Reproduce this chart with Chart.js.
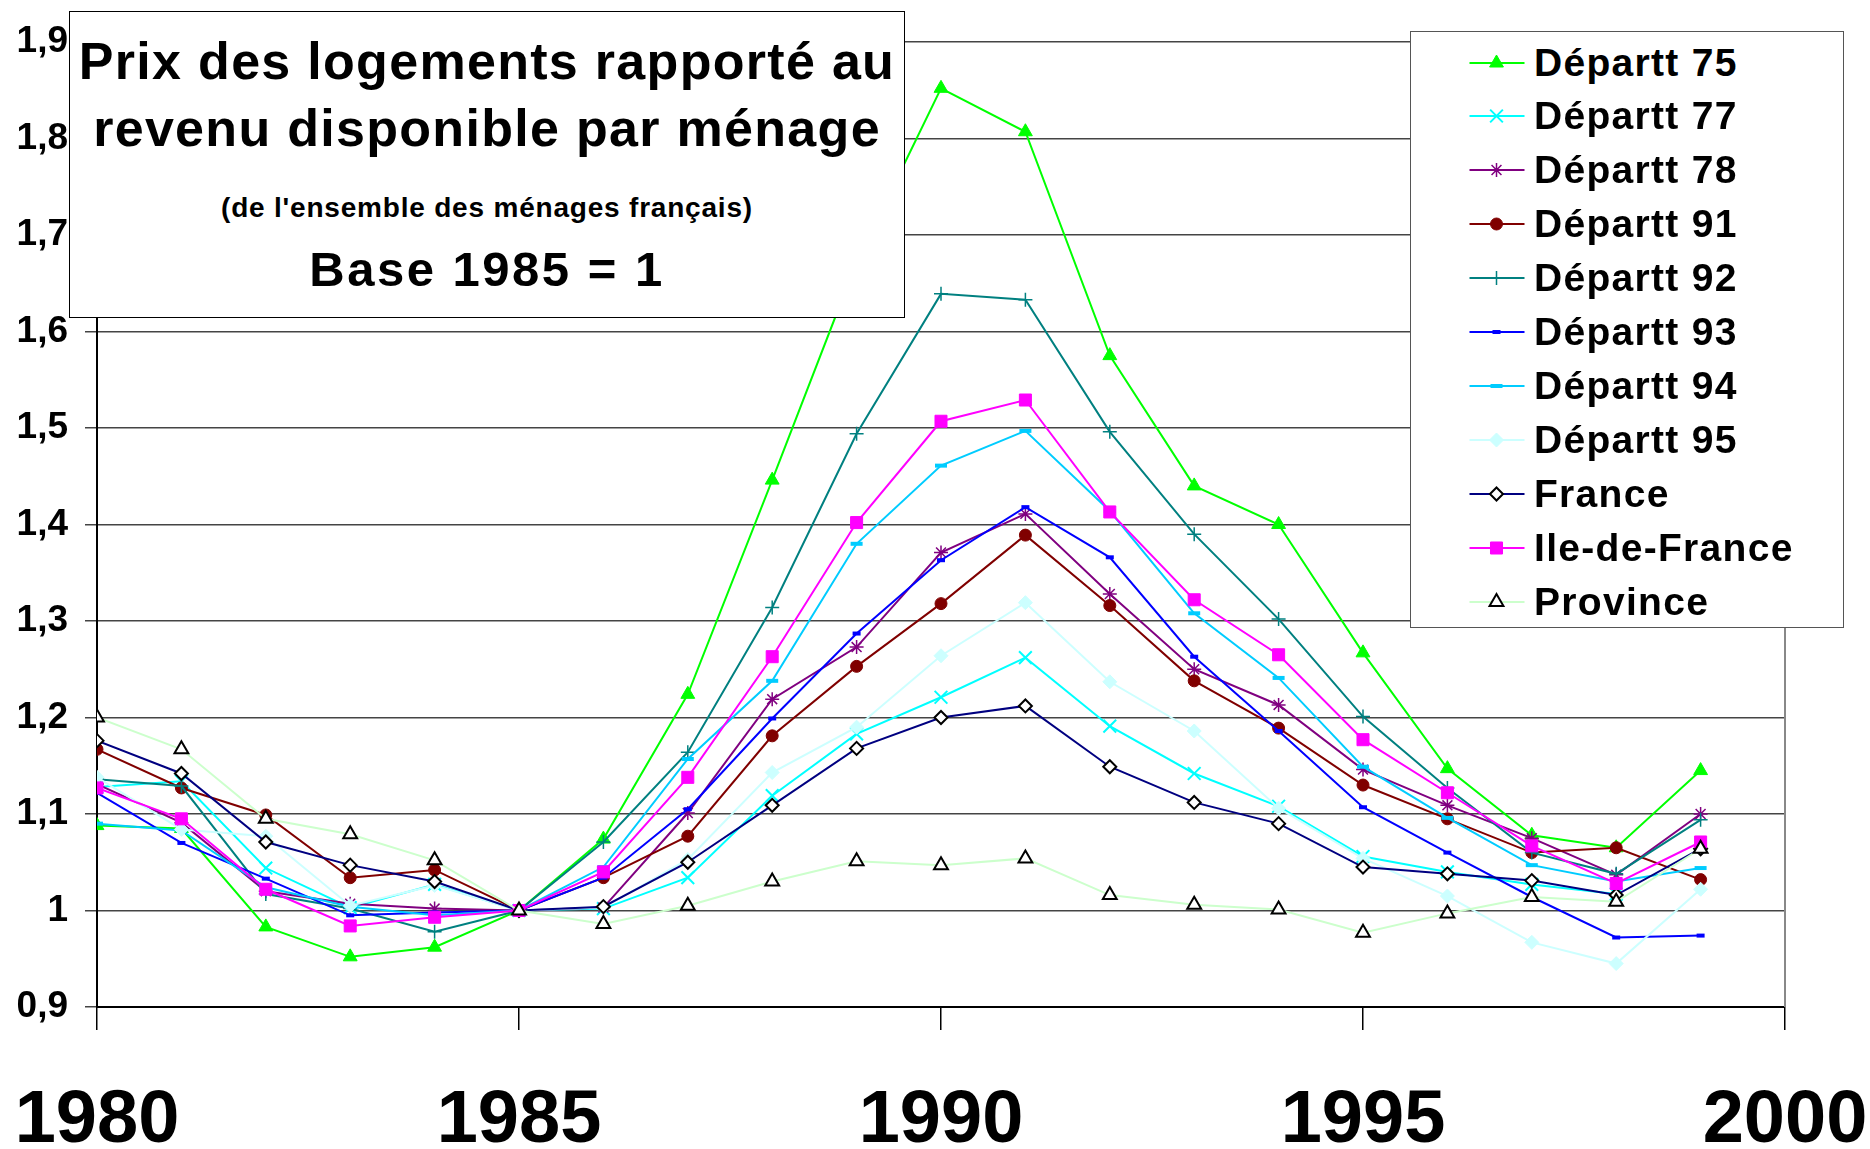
<!DOCTYPE html>
<html>
<head>
<meta charset="utf-8">
<script src="https://cdn.jsdelivr.net/npm/chart.js@4.4.0/dist/chart.umd.min.js"></script>
<style>
body{margin:0;background:#fff;}
#wrap{position:relative;width:1870px;height:1149px;overflow:hidden;font-family:"Liberation Sans",Arial,sans-serif;font-weight:bold;color:#000;}
#c{position:absolute;left:0;top:0;}
#titlebox{position:absolute;left:69px;top:11px;width:834px;height:305px;border:1.5px solid #000;background:#fff;}
.tl{position:absolute;left:0;width:100%;text-align:center;white-space:nowrap;line-height:1;}
#legend{position:absolute;left:1410px;top:31px;width:432px;height:595px;border:1.5px solid #555;background:#fff;}
.row{position:absolute;left:0;height:54px;width:100%;}
.row canvas{position:absolute;left:50px;top:0;}
.row span{position:absolute;left:123px;top:0;line-height:54px;font-size:39px;letter-spacing:1.3px;white-space:nowrap;}
</style>
</head>
<body>
<div id="wrap">
  <canvas id="c" width="1870" height="1149"></canvas>
  <div id="titlebox">
    <div class="tl" style="top:23px;font-size:52px;letter-spacing:1.3px;">Prix des logements rapporté au</div>
    <div class="tl" style="top:90px;font-size:52px;letter-spacing:1.3px;">revenu disponible par ménage</div>
    <div class="tl" style="top:182px;font-size:28px;letter-spacing:0.8px;">(de l'ensemble des ménages français)</div>
    <div class="tl" style="top:233px;font-size:49px;letter-spacing:2.5px;">Base 1985 = 1</div>
  </div>
  <div id="legend"></div>
</div>
<script>
// années et graduations
var years = [1980,1981,1982,1983,1984,1985,1986,1987,1988,1989,1990,1991,1992,1993,1994,1995,1996,1997,1998,1999];
var xTickValues = [1980,1985,1990,1995,2000];
var xTickLabels = ['1980','1985','1990','1995','2000'];
var yTickValues = [0.9,1,1.1,1.2,1.3,1.4,1.5,1.6,1.7,1.8,1.9];
var yTickLabels = ['0,9','1','1,1','1,2','1,3','1,4','1,5','1,6','1,7','1,8','1,9'];

// séries (base 1985 = 1)
var dep75 = [1.088,1.085,0.983,0.952,0.962,1,1.074,1.224,1.446,1.672,1.852,1.807,1.575,1.440,1.400,1.267,1.147,1.078,1.065,1.145];
var dep77 = [1.128,1.134,1.044,1.003,1.027,1,1.002,1.034,1.119,1.183,1.221,1.262,1.191,1.142,1.108,1.056,1.040,1.027,1.017,null];
var dep78 = [1.131,1.091,1.020,1.007,1.002,1,1.003,1.101,1.219,1.273,1.371,1.411,1.328,1.250,1.213,1.146,1.109,1.075,1.037,1.100];
var dep91 = [1.167,1.127,1.099,1.034,1.042,1,1.034,1.077,1.181,1.253,1.318,1.389,1.316,1.238,1.189,1.130,1.095,1.060,1.065,1.032];
var dep92 = [1.136,1.129,1.017,1.002,0.978,1,1.071,1.164,1.314,1.494,1.639,1.633,1.496,1.390,1.302,1.201,1.127,1.060,1.038,1.094];
var dep93 = [1.122,1.070,1.033,0.995,0.998,1,1.034,1.105,1.199,1.287,1.363,1.418,1.366,1.263,1.186,1.107,1.060,1.014,0.972,0.974];
var dep94 = [1.090,1.083,1.024,1.004,0.995,1,1.045,1.157,1.238,1.380,1.461,1.497,1.414,1.308,1.241,1.149,1.096,1.047,1.030,1.044];
var dep95 = [1.138,1.084,1.077,1.005,1.026,1,1.003,1.053,1.143,1.190,1.264,1.319,1.237,1.186,1.106,1.054,1.015,0.967,0.945,1.022];
var france = [1.176,1.142,1.071,1.047,1.030,1,1.004,1.050,1.109,1.168,1.200,1.212,1.149,1.112,1.090,1.045,1.038,1.031,1.016,1.064];
var ileDeFrance = [1.127,1.095,1.022,0.984,0.993,1,1.040,1.138,1.263,1.402,1.507,1.529,1.413,1.322,1.265,1.177,1.122,1.067,1.028,1.071];
var province = [1.200,1.167,1.095,1.079,1.052,1,0.986,1.005,1.030,1.051,1.047,1.054,1.016,1.006,1.001,0.977,0.997,1.014,1.009,1.064];

var seriesNames = ['Départt 75','Départt 77','Départt 78','Départt 91','Départt 92','Départt 93','Départt 94','Départt 95','France','Ile-de-France','Province'];
var seriesValues = [dep75,dep77,dep78,dep91,dep92,dep93,dep94,dep95,france,ileDeFrance,province];

// style de chaque série : couleur du trait, marqueur
var styles = [
  {line:'#00FF00', pt:'triangle', r:8, bg:'#00FF00', bd:'#00FF00', bw:1},
  {line:'#00FFFF', pt:'crossRot', r:9, bg:'#00FFFF', bd:'#00FFFF', bw:2},
  {line:'#800080', pt:'star', r:7, bg:'#800080', bd:'#800080', bw:1.5},
  {line:'#800000', pt:'circle', r:6, bg:'#800000', bd:'#800000', bw:1},
  {line:'#008080', pt:'cross', r:7, bg:'#008080', bd:'#008080', bw:1.5},
  {line:'#0000FF', pt:'line', r:4, bg:'#0000FF', bd:'#0000FF', bw:4},
  {line:'#00CCFF', pt:'line', r:6, bg:'#00CCFF', bd:'#00CCFF', bw:4},
  {line:'#CCFFFF', pt:'rectRot', r:7, bg:'#CCFFFF', bd:'#CCFFFF', bw:1},
  {line:'#000080', pt:'rectRot', r:6.5, bg:'#FFFFFF', bd:'#000000', bw:2},
  {line:'#FF00FF', pt:'rect', r:8.5, bg:'#FF00FF', bd:'#FF00FF', bw:1},
  {line:'#CCFFCC', pt:'triangle', r:8, bg:'#FFFFFF', bd:'#000000', bw:2}
];

var points = function(values) {
	var list = [];
	for (var i = 0; i < years.length; i++) {
		list.push({x: years[i], y: values[i]});
	}
	return list;
};

var datasets = [];
for (var i = 0; i < seriesNames.length; i++) {
	var s = styles[i];
	datasets.push({
		label: seriesNames[i],
		data: points(seriesValues[i]),
		borderColor: s.line,
		borderWidth: 2,
		fill: false,
		tension: 0,
		spanGaps: false,
		pointStyle: s.pt,
		pointRadius: s.r,
		pointBackgroundColor: s.bg,
		pointBorderColor: s.bd,
		pointBorderWidth: s.bw,
		// la dernière série passe au-dessus, comme dans Excel
		order: seriesNames.length - i
	});
}

// cadre droit gris de la zone de tracé
var framePlugin = {
	id: 'frame',
	beforeDatasetsDraw: function(chart) {
		var a = chart.chartArea, ctx = chart.ctx;
		ctx.save();
		ctx.strokeStyle = '#888';
		ctx.lineWidth = 2;
		ctx.beginPath();
		ctx.moveTo(a.right, a.top);
		ctx.lineTo(a.right, a.bottom);
		ctx.stroke();
		ctx.restore();
	}
};

var noPad = function(scale) {
	scale.paddingLeft = 0;
	scale.paddingRight = 0;
	scale.paddingTop = 0;
	scale.paddingBottom = 0;
};

Chart.defaults.font.family = '"Liberation Sans", Arial, sans-serif';
Chart.defaults.color = '#000';

var chart = new Chart(document.getElementById('c'), {
	type: 'line',
	data: { datasets: datasets },
	options: {
		responsive: false,
		animation: false,
		devicePixelRatio: 1,
		layout: { padding: { top: 42, right: 85, left: 0, bottom: 0 } },
		plugins: { legend: { display: false }, tooltip: { enabled: false } },
		scales: {
			x: {
				type: 'linear',
				min: 1980,
				max: 2000,
				afterBuildTicks: function(scale) {
					scale.ticks = xTickValues.map(function(v) { return {value: v}; });
				},
				afterFit: function(scale) { scale.height = 142; noPad(scale); },
				ticks: {
					padding: 47,
					font: { size: 74, weight: 'bold' },
					callback: function(v) { return xTickLabels[xTickValues.indexOf(v)]; }
				},
				grid: { drawOnChartArea: false, tickLength: 23, color: '#000', lineWidth: 1.5 },
				border: { color: '#000', width: 2 }
			},
			y: {
				min: 0.9,
				max: 1.9,
				afterBuildTicks: function(scale) {
					scale.ticks = yTickValues.map(function(v) { return {value: v}; });
				},
				afterFit: function(scale) { scale.width = 97; noPad(scale); },
				ticks: {
					padding: 17,
					font: { size: 37, weight: 'bold' },
					callback: function(v) { return yTickLabels[Math.round((v - 0.9) * 10)]; }
				},
				grid: { color: '#444', lineWidth: 1.5, tickLength: 12 },
				border: { color: '#000', width: 2 }
			}
		}
	},
	plugins: [framePlugin]
});

// légende HTML avec les marqueurs dessinés par Chart.js
var legend = document.getElementById('legend');
for (var k = 0; k < seriesNames.length; k++) {
	var st = styles[k];
	var row = document.createElement('div');
	row.className = 'row';
	row.style.top = (3.5 + k * 53.9) + 'px';
	var cv = document.createElement('canvas');
	cv.width = 72; cv.height = 54;
	var cx = cv.getContext('2d');
	cx.strokeStyle = st.line;
	cx.lineWidth = 2;
	cx.beginPath();
	cx.moveTo(8.5, 27); cx.lineTo(63.5, 27);
	cx.stroke();
	cx.fillStyle = st.bg;
	cx.strokeStyle = st.bd;
	cx.lineWidth = st.bw;
	if (Chart.helpers && Chart.helpers.drawPoint) {
		Chart.helpers.drawPoint(cx, {pointStyle: st.pt, radius: st.r, rotation: 0, borderWidth: st.bw}, 35.5, 27);
	} else {
		cx.beginPath(); cx.arc(35.5, 27, st.r, 0, Math.PI * 2); cx.fill(); cx.stroke();
	}
	row.appendChild(cv);
	var sp = document.createElement('span');
	sp.textContent = seriesNames[k];
	row.appendChild(sp);
	legend.appendChild(row);
}
</script>
</body>
</html>
